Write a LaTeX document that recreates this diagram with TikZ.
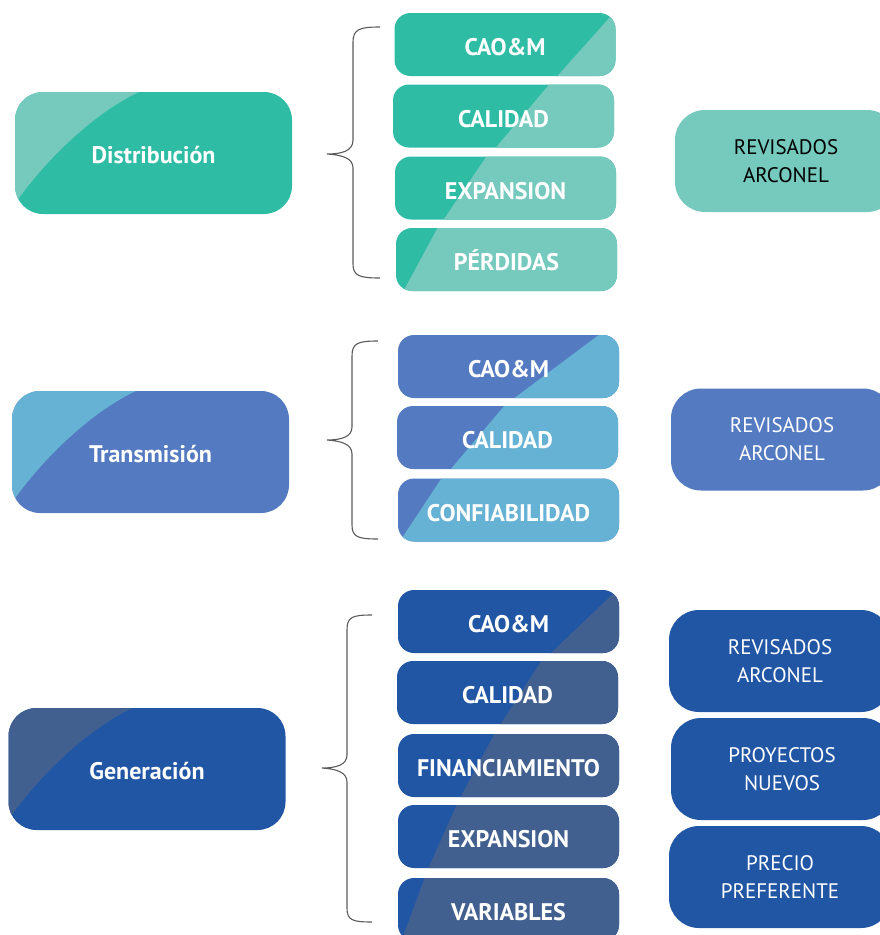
\documentclass[tikz,border=0pt]{standalone}
\usepackage{fontspec}
\setmainfont{PT Sans}
\usetikzlibrary{calc}

\definecolor{tealdark}{HTML}{2EBDA4}
\definecolor{teallight}{HTML}{75C9BD}
\definecolor{trblue}{HTML}{547AC1}
\definecolor{trlight}{HTML}{66B2D4}
\definecolor{gnblue}{HTML}{2156A5}
\definecolor{gngrey}{HTML}{42608F}
\definecolor{bracegrey}{HTML}{5A5A5A}

\tikzset{
  % big box on the left, lighter patch in its upper left corner
  lead/.style={rounded corners=28pt, minimum width=277pt, minimum height=122pt,
    inner sep=0pt, text height=21pt, text depth=0pt, text=white,
    font=\bfseries\fontsize{24}{28}\selectfont},
  corner/.style={path picture={
    \fill[#1, sharp corners] (path picture bounding box.north west)
      -- ($(path picture bounding box.north west)+(126pt,1pt)$)
      .. controls ($(path picture bounding box.north west)+(80pt,-20pt)$)
      and ($(path picture bounding box.north west)+(30pt,-68pt)$)
      .. ($(path picture bounding box.north west)+(-1pt,-113pt)$) -- cycle;}},
  % item boxes in the middle, split by a slanted edge
  item/.style={rounded corners=16pt, minimum width=221pt, minimum height=63pt,
    inner sep=0pt, text height=22pt, text depth=0pt, text=white,
    font=\bfseries\fontsize{24}{28}\selectfont},
  split/.style n args={3}{path picture={
    \fill[#3, sharp corners] ($(path picture bounding box.north west)+(#1pt,1pt)$)
      -- ($(path picture bounding box.north east)+(1pt,1pt)$)
      -- ($(path picture bounding box.south east)+(1pt,-1pt)$)
      -- ($(path picture bounding box.south west)+(#2pt,-1pt)$) -- cycle;}},
  % notes on the right
  note/.style={rounded corners=30pt, minimum width=222pt, minimum height=102pt,
    inner sep=0pt, align=center, text=white, font=\fontsize{21}{28}\selectfont},
  curly/.style={draw=bracegrey, line width=1.1pt}
}

\begin{document}
\begin{tikzpicture}[x=1pt, y=-1pt]
\useasboundingbox (0,0) rectangle (880,935);

% Distribucion
\node[lead, fill=tealdark, corner=teallight] (dist) at (153.5,153) {Distribución};
\node[item, fill=tealdark, split={220}{162}{teallight}] (dcao) at (505,44.5) {CAO\&M};
\node[item, fill=tealdark, split={157}{102}{teallight}] (dcal) at (503.5,116) {CALIDAD};
\node[item, fill=tealdark, split={92}{48}{teallight}] (dexp) at (505.5,188) {EXPANSION};
\node[item, fill=tealdark, split={42}{7}{teallight}] (dper) at (506.5,259.5) {PÉRDIDAS};
\node[note, fill=teallight, text=black] (drev) at (786,161) {REVISADOS\\ARCONEL};
\draw[curly] (380,27) .. controls (360,27) and (353,29) .. (353,42) -- (353,140)
  .. controls (353,151) and (342,154) .. (327,154)
  .. controls (342,155) and (353,158) .. (353,168) -- (353,264)
  .. controls (353,276) and (360,278) .. (380,278);

% Transmision
\node[lead, fill=trblue, corner=trlight] (trans) at (150.5,452) {Transmisión};
\node[item, fill=trblue, split={202}{115}{trlight}] (tcao) at (508.5,366.5) {CAO\&M};
\node[item, fill=trblue, split={108}{53}{trlight}] (tcal) at (507.5,437.5) {CALIDAD};
\node[item, fill=trblue, split={44}{1}{trlight}] (tcon) at (508.5,510) {CONFIABILIDAD};
\node[note, fill=trblue] (trev) at (782,439.5) {REVISADOS\\ARCONEL};
\draw[curly] (378,341) .. controls (358,341) and (352,343) .. (352,356) -- (352,427)
  .. controls (352,437) and (341,440) .. (327,440)
  .. controls (341,441) and (352,444) .. (352,454) -- (352,525)
  .. controls (352,537) and (358,539) .. (378,539);

% Generacion
\node[lead, fill=gnblue, corner=gngrey] (gen) at (147,769) {Generación};
\node[item, fill=gnblue, split={220}{152}{gngrey}] (gcao) at (508.5,621.5) {CAO\&M};
\node[item, fill=gnblue, split={145}{103}{gngrey}] (gcal) at (507.5,692.5) {CALIDAD};
\node[item, fill=gnblue, split={97}{62}{gngrey}] (gfin) at (508.5,765.5) {FINANCIAMIENTO};
\node[item, fill=gnblue, split={59}{30}{gngrey}] (gexp) at (508.5,836.5) {EXPANSION};
\node[item, fill=gnblue, split={27}{3}{gngrey}] (gvar) at (508.5,909.5) {VARIABLES};
\node[note, fill=gnblue] (grev) at (780,661) {REVISADOS\\ARCONEL};
\node[note, fill=gnblue] (gnew) at (782,769) {PROYECTOS\\NUEVOS};
\node[note, fill=gnblue] (gpre) at (780,877) {PRECIO\\PREFERENTE};
\draw[curly] (372,615) .. controls (352,615) and (347,617) .. (347,630) -- (347,755)
  .. controls (347,765) and (336,768) .. (322,768)
  .. controls (336,769) and (347,772) .. (347,782) -- (347,908)
  .. controls (347,920) and (352,922) .. (372,922);
\end{tikzpicture}
\end{document}
